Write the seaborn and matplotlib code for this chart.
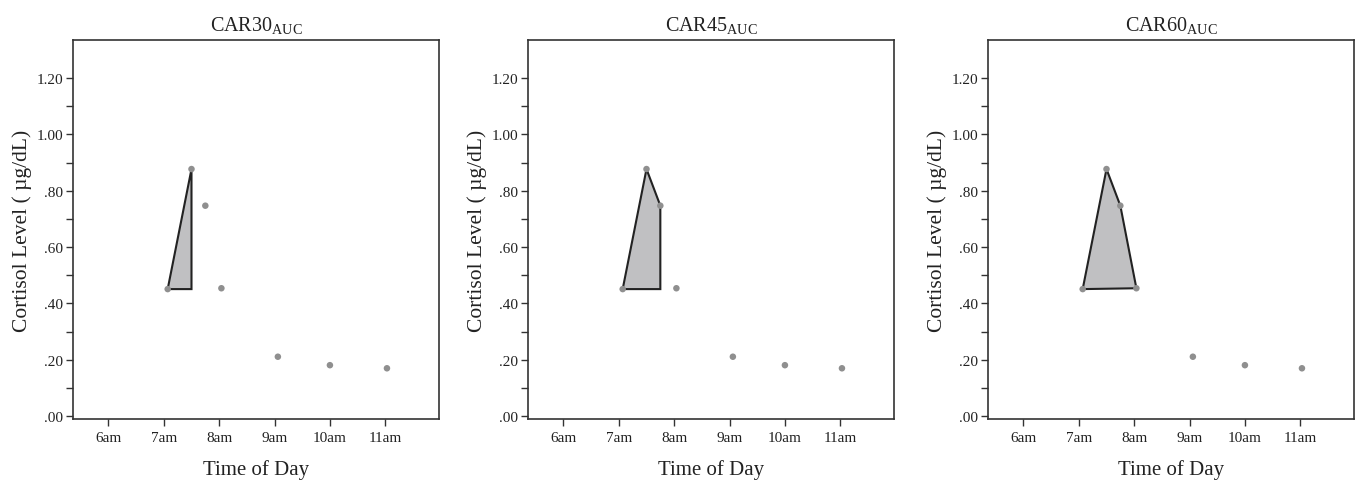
import numpy as np
import pandas as pd
import seaborn as sns
import matplotlib.pyplot as plt
from matplotlib.ticker import MultipleLocator, FixedLocator, FuncFormatter

# cortisol samples (hours after midnight, ug/dL)
hours = [7.07, 7.50, 7.75, 8.04, 9.06, 10.00, 11.03]
cortisol = [0.451, 0.877, 0.747, 0.454, 0.211, 0.181, 0.170]
hour_ticks = [6, 7, 8, 9, 10, 11]
hour_labels = ["6am", "7am", "8am", "9am", "10am", "11am"]
panel_names = ["CAR30", "CAR45", "CAR60"]
# how many samples each AUC covers
panel_npoints = [2, 3, 4]

sns.set_theme(style="ticks")
plt.rcParams['font.family'] = ['Liberation Serif', 'DejaVu Serif']
plt.rcParams['mathtext.fontset'] = 'custom'
plt.rcParams['mathtext.rm'] = 'Liberation Serif'

df = pd.DataFrame({"hour": hours, "cortisol": cortisol})

fig = plt.figure(figsize=(13.62, 4.85), dpi=100)
lefts = [73, 528, 988]

for i, name in enumerate(panel_names):
    ax = fig.add_axes([lefts[i] / 1362, 65 / 485, 366 / 1362, 379 / 485])

    # shaded AUC area (ground = first sample)
    n = panel_npoints[i]
    px = hours[:n]
    py = cortisol[:n]
    if n < 4:
        px = px + [hours[n - 1]]
        py = py + [cortisol[0]]
    ax.fill(px, py, facecolor="#c0c0c2", edgecolor="#222222", linewidth=1.5, zorder=2)

    sns.scatterplot(data=df, x="hour", y="cortisol", ax=ax, color="#8f8f8f",
                    s=22, edgecolor="none", zorder=3)

    ax.set_xlim(5.36, 11.97)
    ax.set_ylim(-0.01, 1.335)
    ax.set_xticks(hour_ticks)
    ax.set_xticklabels(hour_labels)
    ax.yaxis.set_major_locator(MultipleLocator(0.2))
    ax.yaxis.set_minor_locator(FixedLocator([0.1, 0.3, 0.5, 0.7, 0.9, 1.1]))
    ax.yaxis.set_major_formatter(FuncFormatter(
        lambda v, p: ("%.2f" % v).replace("0.", ".", 1) if v < 1 else "%.2f" % v))
    ax.tick_params(axis="both", which="both", direction="out", length=5, width=1,
                   color="#333333", labelsize=11, labelcolor="#222222")
    ax.tick_params(axis="y", which="both", pad=2)
    for sp in ax.spines.values():
        sp.set_color("#333333")
        sp.set_linewidth(1.2)

    ax.set_xlabel("Time of Day", fontsize=15, color="#222222", labelpad=11)
    ax.set_ylabel("Cortisol Level ( µg/dL)", fontsize=15.5, color="#222222", labelpad=3)
    ax.set_title(name + r"$_{\mathrm{AUC}}$", fontsize=14.5, color="#222222", pad=7)

fig.savefig("out.png", dpi=100)
